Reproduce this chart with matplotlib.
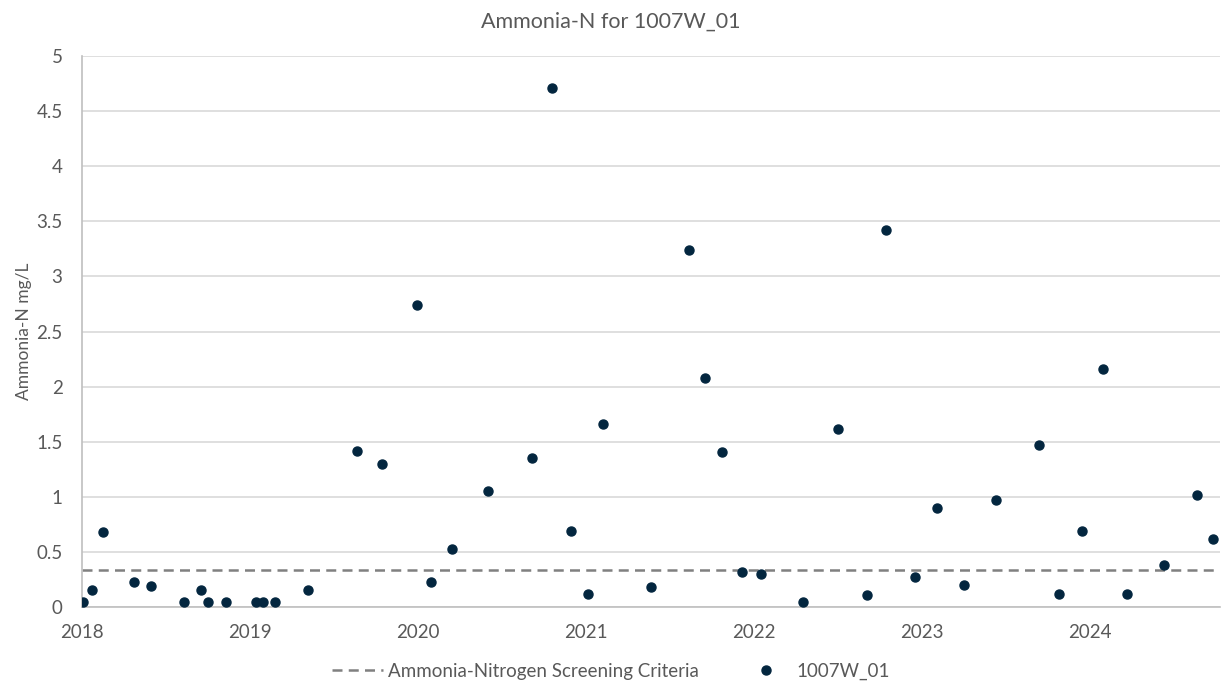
import matplotlib
matplotlib.use('Agg')
import matplotlib.pyplot as plt
import numpy as np
import pandas as pd

# sample dates and Ammonia-N results (mg/L)
sample_dates = [
    '2018-01-03', '2018-01-23', '2018-02-16', '2018-04-24', '2018-05-30',
    '2018-08-11', '2018-09-16', '2018-10-01', '2018-11-10', '2019-01-15',
    '2019-01-30', '2019-02-24', '2019-05-08', '2019-08-22', '2019-10-15',
    '2019-12-31', '2020-01-30', '2020-03-14', '2020-06-02', '2020-09-05',
    '2020-10-19', '2020-11-28', '2021-01-04', '2021-02-06', '2021-05-22',
    '2021-08-11', '2021-09-16', '2021-10-23', '2021-12-05', '2022-01-15',
    '2022-04-16', '2022-07-02', '2022-09-02', '2022-10-15', '2022-12-16',
    '2023-02-02', '2023-04-01', '2023-06-10', '2023-09-12', '2023-10-26',
    '2023-12-13', '2024-01-29', '2024-03-20', '2024-06-09', '2024-08-21',
    '2024-09-23',
]
ammonia_n = [
    0.05, 0.16, 0.68, 0.23, 0.19,
    0.05, 0.16, 0.05, 0.05, 0.05,
    0.05, 0.05, 0.16, 1.42, 1.30,
    2.74, 0.23, 0.53, 1.05, 1.35,
    4.71, 0.69, 0.12, 1.66, 0.18,
    3.24, 2.08, 1.41, 0.32, 0.30,
    0.05, 1.62, 0.11, 3.42, 0.27,
    0.90, 0.20, 0.97, 1.47, 0.12,
    0.69, 2.16, 0.12, 0.38, 1.02,
    0.62,
]
screening_criteria = 0.34
x_start = '2018-01-01'
x_end = '2024-10-08'
year_ticks = ['2018', '2019', '2020', '2021', '2022', '2023', '2024']
y_ticks = [0, 0.5, 1, 1.5, 2, 2.5, 3, 3.5, 4, 4.5, 5]
y_tick_labels = ['0', '0.5', '1', '1.5', '2', '2.5', '3', '3.5', '4', '4.5', '5']

text_col = '#595959'
plt.rcParams['font.family'] = ['Lato', 'DejaVu Sans']

dates = pd.to_datetime(sample_dates)
xmin, xmax = pd.Timestamp(x_start), pd.Timestamp(x_end)

fig = plt.figure(figsize=(12.22, 6.83), dpi=100)
ax = fig.add_axes([0.0671, 0.111, 0.9309, 0.807])

ax.grid(axis='y', color='#d9d9d9', linewidth=1.2, zorder=0)
ax.plot([xmin, xmax], [screening_criteria, screening_criteria], color='#808080',
        linestyle=(0, (4, 2.5)), linewidth=1.8, zorder=2,
        label='Ammonia-Nitrogen Screening Criteria')
ax.plot(dates, ammonia_n, linestyle='none', marker='o', markersize=6.5,
        color='#03263f', zorder=3, label='1007W_01')

ax.set_xlim(xmin, xmax)
ax.set_ylim(0, 5)
ax.set_yticks(y_ticks)
ax.set_yticklabels(y_tick_labels)
ax.set_xticks([pd.Timestamp(y + '-01-01') for y in year_ticks])
ax.set_xticklabels(year_ticks)

for s in ['top', 'right']:
    ax.spines[s].set_visible(False)
for s in ['left', 'bottom']:
    ax.spines[s].set_color('#bfbfbf')
    ax.spines[s].set_linewidth(1.2)
ax.tick_params(axis='both', length=0, labelsize=13.5, colors=text_col)
ax.tick_params(axis='x', pad=12)
ax.tick_params(axis='y', pad=14)

ax.set_ylabel('Ammonia-N mg/L', fontsize=12.5, color=text_col, labelpad=3)
fig.text(0.5, 0.968, 'Ammonia-N for 1007W_01', ha='center', va='center',
         fontsize=15.5, color=text_col)

leg = fig.legend(loc='center', bbox_to_anchor=(0.5, 0.017), ncol=2, frameon=False,
                 fontsize=13.5, handlelength=2.7, handletextpad=0.3, columnspacing=2.2,
                 labelcolor=text_col)

fig.savefig('out.png', dpi=100)
